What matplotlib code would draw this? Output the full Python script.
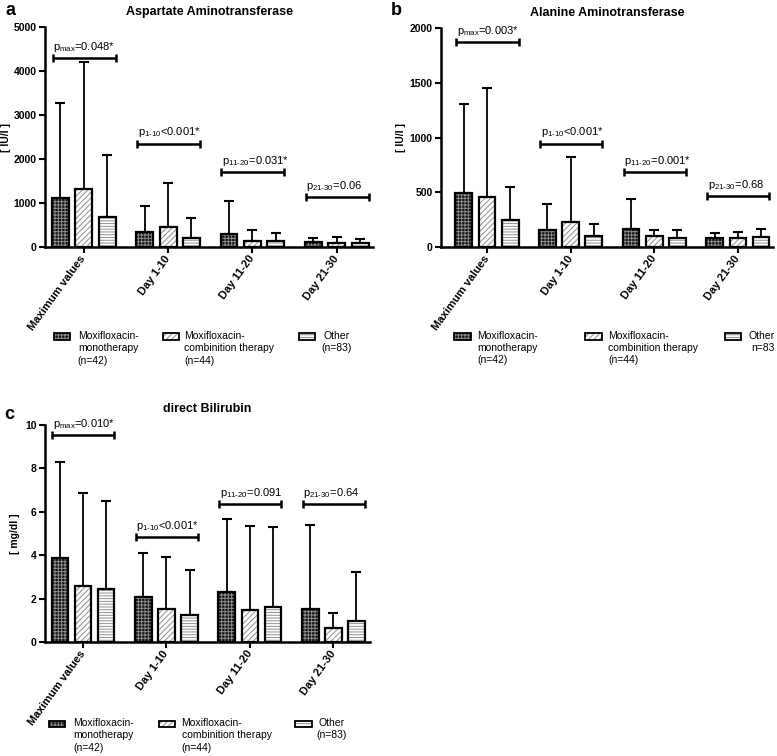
import matplotlib
matplotlib.use("Agg")
import matplotlib.pyplot as plt
import numpy as np
from matplotlib.patches import Rectangle

plt.rcParams["font.family"] = ["Liberation Sans", "DejaVu Sans"]
plt.rcParams["mathtext.fontset"] = "custom"
plt.rcParams["mathtext.rm"] = "Liberation Sans"
plt.rcParams["mathtext.it"] = "Liberation Sans:italic"
plt.rcParams["mathtext.bf"] = "Liberation Sans:bold"
plt.rcParams["hatch.linewidth"] = 0.7

groups = ["Maximum values", "Day 1-10", "Day 11-20", "Day 21-30"]

# Aspartate aminotransferase [IU/l]: mean and upper SD
ast_mono = [1117, 342, 289, 114]
ast_mono_sd = [2151, 585, 767, 84]
ast_combo = [1307, 456, 137, 91]
ast_combo_sd = [2888, 995, 251, 137]
ast_other = [684, 213, 129, 84]
ast_other_sd = [1398, 456, 198, 98]
ast_p = ["p$_\\mathrm{max}$=0.048*", "p$_\\mathrm{1‐10}$<0.001*",
         "p$_\\mathrm{11‐20}$=0.031*", "p$_\\mathrm{21‐30}$=0.06"]
ast_p_y = [4300, 2350, 1710, 1140]

# Alanine aminotransferase [IU/l]
alt_mono = [496, 158, 164, 85]
alt_mono_sd = [807, 232, 271, 43]
alt_combo = [457, 231, 97, 85]
alt_combo_sd = [995, 591, 55, 52]
alt_other = [244, 97, 85, 91]
alt_other_sd = [304, 110, 73, 76]
alt_p = ["p$_\\mathrm{max}$=0.003*", "p$_\\mathrm{1‐10}$<0.001*",
         "p$_\\mathrm{11‐20}$=0.001*", "p$_\\mathrm{21‐30}$=0.68"]
alt_p_y = [1870, 944, 685, 463]

# direct bilirubin [mg/dl]
bil_mono = [3.85, 2.09, 2.29, 1.52]
bil_mono_sd = [4.43, 2.03, 3.37, 3.85]
bil_combo = [2.57, 1.51, 1.46, 0.63]
bil_combo_sd = [4.28, 2.41, 3.88, 0.69]
bil_other = [2.45, 1.23, 1.60, 0.95]
bil_other_sd = [4.04, 2.09, 3.69, 2.27]
bil_p = ["p$_\\mathrm{max}$=0.010*", "p$_\\mathrm{1‐10}$<0.001*",
         "p$_\\mathrm{11‐20}$=0.091", "p$_\\mathrm{21‐30}$=0.64"]
bil_p_y = [9.52, 4.85, 6.37, 6.37]

legend_mono = "Moxifloxacin-\nmonotherapy\n(n=42)"
legend_combo = "Moxifloxacin-\ncombinition therapy\n(n=44)"
legend_other = "Other\n(n=83)"

# fill style per series: (facecolor, hatch, hatch colour)
styles = [("#121212", "+++++", "#8c8c8c"),
          ("white", "//////", "#8f8f8f"),
          ("white", "------", "#8f8f8f")]

W, H = 777, 756


def px_axes(fig, left, right, top, bottom):
    return fig.add_axes([left / W, 1 - bottom / H, (right - left) / W, (bottom - top) / H])


def draw_panel(ax, means, sds, pvals, py, ymax, ystep, xlim, ylabel, title):
    x = np.arange(len(groups))
    offs = [-0.277, 0, 0.277]
    for (m, s), off, (fc, hatch, hc) in zip(zip(means, sds), offs, styles):
        ax.bar(x + off, m, 0.2, color=fc, hatch=hatch, edgecolor=hc, linewidth=0, zorder=2)
        ax.bar(x + off, m, 0.2, fill=False, edgecolor="black", linewidth=1.6, zorder=3)
        ax.errorbar(x + off, m, yerr=[np.zeros(len(m)), s], fmt="none", ecolor="black",
                    elinewidth=1.3, capsize=3.3, capthick=1.5, zorder=1)
    for xi, lab, yb in zip(x, pvals, py):
        ax.errorbar(xi + 0.005, yb, xerr=0.372, fmt="none", ecolor="black",
                    elinewidth=1.8, capsize=3, capthick=1.8, clip_on=False)
        ax.annotate(lab, (xi - 0.36, yb), xytext=(0, 3), textcoords="offset points",
                    ha="left", va="bottom", fontsize=8, annotation_clip=False)
    ax.set_xlim(*xlim)
    ax.set_ylim(0, ymax)
    ax.set_yticks(np.arange(0, ymax + ystep / 2, ystep))
    ax.set_xticks(x)
    ax.set_xticklabels(groups, rotation=54, ha="right", va="center",
                       rotation_mode="anchor", fontweight="bold", fontsize=8)
    for lab in ax.get_yticklabels():
        lab.set_fontweight("bold")
    ax.tick_params(axis="both", direction="out", length=4, width=1.5, labelsize=7.5, pad=2)
    ax.tick_params(axis="x", pad=3, labelsize=8)
    for side in ["top", "right"]:
        ax.spines[side].set_visible(False)
    for side in ["left", "bottom"]:
        ax.spines[side].set_linewidth(1.8)
    ax.set_ylabel(ylabel, fontweight="bold", fontsize=7.5)
    ax.set_title(title, fontweight="bold", fontsize=9, pad=9)


def draw_legend(ax, pos, ytxt, ybox, hbox, other_text, centered):
    # pos: patch1, text1, patch2, text2, patch3, text3 (axes fractions)
    labels = [legend_mono, legend_combo, other_text]
    for i, (fc, hatch, hc) in enumerate(styles):
        px, tx = pos[2 * i], pos[2 * i + 1]
        ax.add_patch(Rectangle((px, ybox), 0.05, hbox, transform=ax.transAxes,
                               facecolor=fc, hatch=hatch, edgecolor=hc, lw=0, clip_on=False))
        ax.add_patch(Rectangle((px, ybox), 0.05, hbox, transform=ax.transAxes,
                               fill=False, edgecolor="black", lw=1.3, clip_on=False))
        if i < 2:
            ax.text(tx, ytxt, labels[i], transform=ax.transAxes, ha="left", va="top",
                    fontsize=7.5, linespacing=1.3)
        elif centered:
            ax.text(tx, ytxt, labels[i], transform=ax.transAxes, ha="center",
                    multialignment="center", va="top", fontsize=7.5, linespacing=1.3)
        else:
            ax.text(tx, ytxt, labels[i], transform=ax.transAxes, ha="left",
                    multialignment="right", va="top", fontsize=7.5, linespacing=1.3)


fig = plt.figure(figsize=(W / 100, H / 100), dpi=100)

ax_a = px_axes(fig, 45, 373, 27, 247)
draw_panel(ax_a, [ast_mono, ast_combo, ast_other], [ast_mono_sd, ast_combo_sd, ast_other_sd],
           ast_p, ast_p_y, 5000, 1000, (-0.46, 3.43), "[ IU/l ]", "Aspartate Aminotransferase")
ax_a.yaxis.set_label_coords(-0.105, 0.5)
draw_legend(ax_a, [0.027, 0.10, 0.36, 0.424, 0.774, 0.89], -0.382, -0.425, 0.032,
            legend_other, True)

ax_b = px_axes(fig, 441, 773, 28, 247)
draw_panel(ax_b, [alt_mono, alt_combo, alt_other], [alt_mono_sd, alt_combo_sd, alt_other_sd],
           alt_p, alt_p_y, 2000, 500, (-0.55, 3.42), "[ IU/l ]", "Alanine Aminotransferase")
ax_b.yaxis.set_label_coords(-0.105, 0.5)
draw_legend(ax_b, [0.04, 0.11, 0.434, 0.503, 0.855, 0.925], -0.382, -0.425, 0.032,
            "Other\nn=83", False)

ax_c = px_axes(fig, 45, 370, 425, 642)
draw_panel(ax_c, [bil_mono, bil_combo, bil_other], [bil_mono_sd, bil_combo_sd, bil_other_sd],
           bil_p, bil_p_y, 10, 2, (-0.456, 3.44), "[ mg/dl ]", "direct Bilirubin")
ax_c.yaxis.set_label_coords(-0.077, 0.5)
ax_c.title.set_position((0.5, 1.045))
draw_legend(ax_c, [0.012, 0.086, 0.351, 0.42, 0.77, 0.883], -0.35, -0.394, 0.032,
            legend_other, True)

fig.text(5 / W, 1 - 15 / H, "a", fontweight="bold", fontsize=13)
fig.text(391 / W, 1 - 15 / H, "b", fontweight="bold", fontsize=13)
fig.text(4 / W, 1 - 419 / H, "c", fontweight="bold", fontsize=13)

fig.savefig("out.png", dpi=100)
